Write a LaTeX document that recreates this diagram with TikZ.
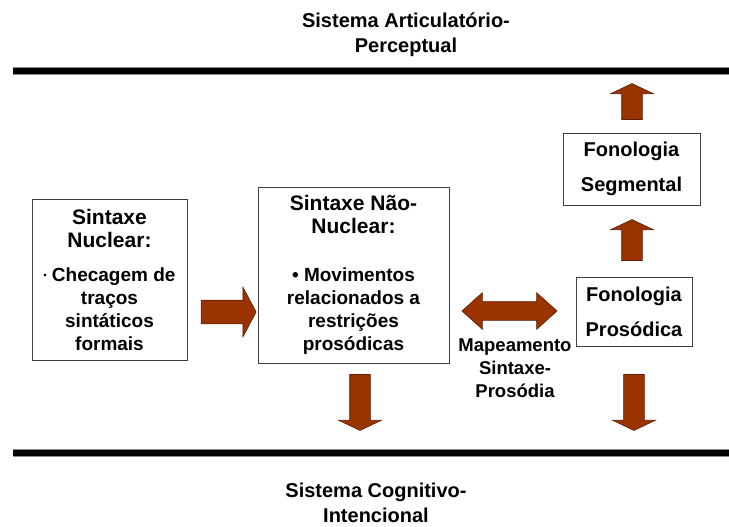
\documentclass[tikz,border=0pt]{standalone}
\usepackage{fontspec}
\setmainfont{Liberation Sans}
\usetikzlibrary{shapes.arrows}
\definecolor{rust}{RGB}{153,51,0}
\definecolor{rustedge}{RGB}{96,28,0}
\newcommand\headfont{\fontsize{21}{23}\selectfont}
\newcommand\bodyfont{\fontsize{19}{23}\selectfont}

\begin{document}
\begin{tikzpicture}[x=1pt, y=-1pt, every node/.style={font=\bfseries, align=center, inner sep=0pt},
	box/.style={draw=black!75, line width=0.8pt, fill=white},
	fatarrow/.style={single arrow, draw=rustedge, fill=rust, line width=0.6pt, inner ysep=10pt,
		single arrow head extend=11pt, single arrow tip angle=129},
	bar/.style={line width=8pt, black!45}]
	\useasboundingbox (0,0) rectangle (729,527);
	% the two systems
	\node[font=\fontsize{20}{25}\selectfont\bfseries] (artic) at (406,35) {Sistema Articulatório-\\Perceptual};
	\node[font=\fontsize{20}{25}\selectfont\bfseries] (cognit) at (376,503) {Sistema Cognitivo-\\Intencional};
	\draw[bar] (13,71) -- (729,71);
	\draw[line width=5.5pt] (13,71) -- (729,71);
	\draw[bar] (13,453) -- (729,453);
	\draw[line width=5.5pt] (13,453) -- (729,453);
	% boxes
	\node[box, font=\bodyfont\bfseries, minimum width=155pt, minimum height=161pt] (core) at (109.5,279.5)
		{\headfont Sintaxe\\\headfont Nuclear:\\[11pt]\raisebox{2.5pt}{\fontsize{9}{9}\selectfont\textbullet} Checagem de\\traços\\sintáticos\\formais};
	\node[box, font=\bodyfont\bfseries, minimum width=191pt, minimum height=176pt] (noncore) at (353.5,275)
		{\headfont Sintaxe Não-\\\headfont Nuclear:\\[25pt]\textbullet\ Movimentos\\relacionados a\\restrições\\prosódicas};
	\node[box, font=\fontsize{20}{23}\selectfont\bfseries, minimum width=137pt, minimum height=72pt] (segm) at (631.5,169)
		{Fonologia\\[12pt]Segmental};
	\node[box, font=\fontsize{20}{23}\selectfont\bfseries, minimum width=116pt, minimum height=69pt] (prosod) at (634,311.5)
		{Fonologia\\[12pt]Prosódica};
	\node[font=\fontsize{18.5}{23}\selectfont\bfseries] (mapping) at (515,368) {Mapeamento\\Sintaxe-\\Prosódia};
	% block arrows
	\node[fatarrow, inner ysep=11.5pt, minimum height=55pt, single arrow head extend=13pt, single arrow tip angle=124] (toNonCore) at (225.5,312) {};
	\node[fatarrow, minimum height=56pt, rotate=-90] (downNonCore) at (360,400) {};
	\node[double arrow, draw=rustedge, fill=rust, line width=0.6pt, inner ysep=9pt, minimum height=95pt,
		double arrow head extend=9pt, double arrow tip angle=84] (mapArrow) at (509.5,311) {};
	\node[fatarrow, minimum height=41pt, rotate=90] (upProsod) at (632,242.5) {};
	\node[fatarrow, minimum height=36pt, rotate=90] (upSegm) at (632,104) {};
	\node[fatarrow, minimum height=56pt, rotate=-90] (downProsod) at (634,400) {};
\end{tikzpicture}
\end{document}
